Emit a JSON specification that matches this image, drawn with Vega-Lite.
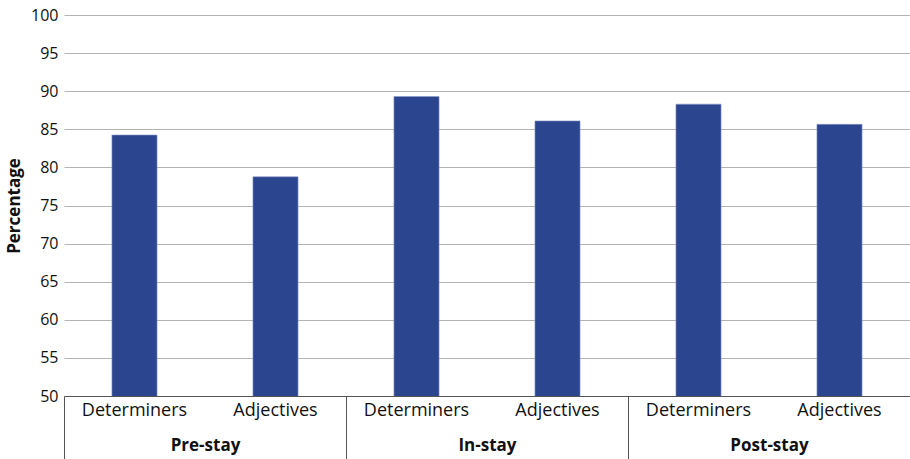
{
  "$schema": "https://vega.github.io/schema/vega-lite/v6.json",
  "width": 846,
  "height": 381,
  "autosize": {"type": "none"},
  "padding": {"left": 64, "top": 15, "right": 0, "bottom": 63},
  "config": {
    "view": {"stroke": null},
    "font": "Open Sans",
    "axis": {"labelFont": "Open Sans", "titleFont": "Open Sans", "labelColor": "#111", "titleColor": "#111"}
  },
  "data": {
    "values": [
      {"stay": "Pre-stay", "type": "Determiners", "bar": "Pre-stay Determiners", "value": 84.25},
      {"stay": "Pre-stay", "type": "Adjectives", "bar": "Pre-stay Adjectives", "value": 78.77},
      {"stay": "In-stay", "type": "Determiners", "bar": "In-stay Determiners", "value": 89.3},
      {"stay": "In-stay", "type": "Adjectives", "bar": "In-stay Adjectives", "value": 86.1},
      {"stay": "Post-stay", "type": "Determiners", "bar": "Post-stay Determiners", "value": 88.3},
      {"stay": "Post-stay", "type": "Adjectives", "bar": "Post-stay Adjectives", "value": 85.65}
    ]
  },
  "layer": [
    {
      "mark": {"type": "bar", "color": "#2c458f", "stroke": "#8a9acb", "strokeWidth": 0.6, "clip": true},
      "encoding": {
        "x": {
          "field": "bar",
          "type": "nominal",
          "sort": null,
          "scale": {"paddingInner": 0.68, "paddingOuter": 0.34},
          "axis": {
            "title": null,
            "labelExpr": "split(datum.label, ' ')[1]",
            "labelAngle": 0,
            "labelFontSize": 18,
            "labelPadding": 5,
            "ticks": false,
            "domainColor": "#555",
            "domainWidth": 1,
            "orient": "bottom",
            "zindex": 2
          }
        },
        "y": {
          "field": "value",
          "type": "quantitative",
          "scale": {"domain": [50, 100], "nice": false, "zero": false},
          "axis": {
            "title": "Percentage",
            "titleFontSize": 17,
            "titleFontWeight": "bold",
            "titlePadding": 7,
            "values": [50, 55, 60, 65, 70, 75, 80, 85, 90, 95, 100],
            "labelFontSize": 16,
            "labelPadding": 6,
            "ticks": false,
            "domain": false,
            "gridColor": "#b4b4b4",
            "gridWidth": 1
          }
        }
      }
    },
    {
      "mark": {"type": "rule", "opacity": 0},
      "encoding": {
        "x": {
          "field": "stay",
          "type": "nominal",
          "sort": null,
          "scale": {"paddingInner": 0, "paddingOuter": 0},
          "axis": {
            "title": null,
            "orient": "bottom",
            "labelAngle": 0,
            "labelFontSize": 17,
            "labelFontWeight": "bold",
            "labelPadding": -22,
            "tickBand": "extent",
            "tickSize": 63,
            "tickColor": "#555",
            "tickWidth": 1,
            "domain": false
          }
        }
      }
    }
  ],
  "resolve": {"scale": {"x": "independent"}}
}
